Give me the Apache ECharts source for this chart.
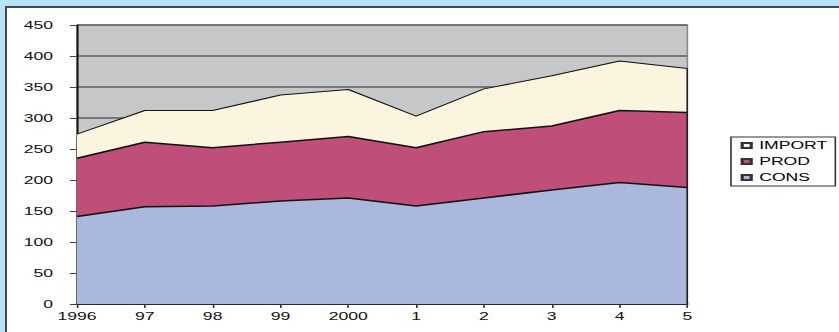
<!DOCTYPE html>
<html>
<head>
<meta charset="utf-8">
<script src="https://cdn.jsdelivr.net/npm/echarts@6/dist/echarts.min.js"></script>
<style>
html,body{margin:0;padding:0;width:839px;height:332px;overflow:hidden;background:#b9e3f7;}
#frame{position:absolute;left:5px;top:6px;width:840px;height:330px;background:#fff;border-left:2px solid #3d4a55;border-top:2px solid #3d4a55;box-sizing:border-box;}
#chart{position:absolute;left:0;top:0;width:524.375px;height:332px;transform:scaleX(1.6);transform-origin:0 0;}
</style>
</head>
<body>
<div id="frame"></div>
<div id="chart"></div>
<script>
const years = ['1996','97','98','99','2000','1','2','3','4','5'];
const cons = [141,157,158,166,171,158,171,184,196,188];
const prod = [94,104,94,95,99,94,107,103,116,121];
const imports = [39,51,60,76,76,51,69,81,80,71];
const yTicks = [0,50,100,150,200,250,300,350,400,450];

const SX = 1.6; // horizontal stretch of the original picture
const font = 'Liberation Sans';
const chart = echarts.init(document.getElementById('chart'), null, {renderer:'svg'});
const last = years.length - 1;
const lastTop = cons[last] + prod[last] + imports[last];
function areaSeries(name, data, fill, lw){
  return {
    name: name, type:'line', stack:'total', data:data, symbol:'none',
    lineStyle:{color:'#111', width:lw},
    areaStyle:{color:fill, opacity:1},
    itemStyle:{color:fill, borderColor:'#333', borderWidth:0.8},
    emphasis:{disabled:true}, animation:false
  };
}
const importSeries = areaSeries('IMPORT', imports, '#fbf5df', 1);
importSeries.markLine = {
  silent:true, symbol:'none', label:{show:false},
  lineStyle:{color:'#222', width:1, type:'solid'},
  data:[[{coord:[years[last], 0]}, {coord:[years[last], lastTop]}]]
};
chart.setOption({
  animation:false,
  backgroundColor:'transparent',
  grid:{left:77/SX, right:151/SX, top:25, bottom:28, show:true, backgroundColor:'#c6c7c9', borderColor:'#8a8a8a', borderWidth:1},
  legend:{
    data:['IMPORT','PROD','CONS'], orient:'vertical', left:731/SX, top:137,
    icon:'rect', itemWidth:9/SX, itemHeight:5, itemGap:5,
    backgroundColor:'#fff', borderColor:'#333', borderWidth:1, padding:[3,5,3,6],
    textStyle:{fontFamily:font, fontSize:11, color:'#000', padding:[0,0,0,0]},
    selectedMode:false
  },
  xAxis:{
    type:'category', data:years, boundaryGap:false,
    axisLine:{lineStyle:{color:'#111', width:1.5}},
    axisTick:{show:true, length:4, lineStyle:{color:'#333'}},
    axisLabel:{fontFamily:font, fontSize:11, color:'#111', margin:7},
    splitLine:{show:false}
  },
  yAxis:{
    type:'value', min:yTicks[0], max:yTicks[yTicks.length-1], interval:50,
    axisLine:{show:true, lineStyle:{color:'#111', width:1.2}},
    axisTick:{show:true, length:7/SX, lineStyle:{color:'#444'}},
    axisLabel:{fontFamily:font, fontSize:11, color:'#111', margin:24/SX},
    splitLine:{show:true, lineStyle:{color:'#5e5e5e', width:1.5}}
  },
  series:[
    areaSeries('CONS', cons, '#a9b8dc', 1.5),
    areaSeries('PROD', prod, '#bf4f78', 1.5),
    importSeries
  ]
});
</script>
</body>
</html>
